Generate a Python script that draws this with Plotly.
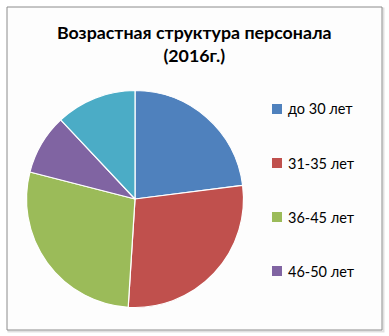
import plotly.graph_objects as go

labels = ["до 30 лет", "31-35 лет", "36-45 лет", "46-50 лет", "старше 50 лет"]
values = [23, 28, 28, 9, 12]
colors = ["#4F81BD", "#C0504D", "#9BBB59", "#8064A2", "#4BACC6"]
title_text = "Возрастная структура персонала<br>(2016г.)"
legend_shown = 4  # the last legend entry is cut off in the original

W, H = 389, 336
cx, cy, r = 135, 199, 108.5

fig = go.Figure(go.Pie(
    labels=labels, values=values, sort=False, direction="clockwise", rotation=0,
    marker=dict(colors=colors, line=dict(color="white", width=1.2)),
    textinfo="none", hoverinfo="label+percent", showlegend=False,
    domain=dict(x=[(cx - r) / W, (cx + r) / W], y=[(H - cy - r) / H, (H - cy + r) / H]),
))

shapes = [
    dict(type="rect", xref="paper", yref="paper", x0=8.5 / W, x1=383.5 / W, y0=1 - 331.5 / H, y1=1 - 8.5 / H,
         line=dict(color="rgba(0,0,0,0.12)", width=2), layer="below"),
    dict(type="rect", xref="paper", yref="paper", x0=7 / W, x1=382 / W, y0=1 - 330 / H, y1=1 - 7 / H,
         line=dict(color="#8C8C8C", width=1), fillcolor="#FDFDFD", layer="below"),
]
annotations = [dict(text="<b>" + title_text + "</b>", x=195 / W, y=1 - 43.5 / H, xref="paper", yref="paper",
                    showarrow=False, xanchor="center", yanchor="middle",
                    font=dict(family="Lato", size=17.8, color="#000000"))]

y0, dy = 109, 54
for i in range(legend_shown):
    yc = y0 + i * dy
    shapes.append(dict(type="rect", xref="paper", yref="paper",
                       x0=272 / W, x1=282 / W, y0=1 - (yc + 5) / H, y1=1 - (yc - 5) / H,
                       fillcolor=colors[i], line=dict(width=0)))
    annotations.append(dict(text=labels[i], x=286 / W, y=1 - yc / H, xref="paper", yref="paper",
                            showarrow=False, xanchor="left", yanchor="middle",
                            font=dict(family="Lato", size=14.5, color="#000000")))

fig.update_layout(width=W, height=H, margin=dict(l=0, r=0, t=0, b=0),
                  paper_bgcolor="white", plot_bgcolor="white",
                  shapes=shapes, annotations=annotations)
fig.write_html("out.html")
